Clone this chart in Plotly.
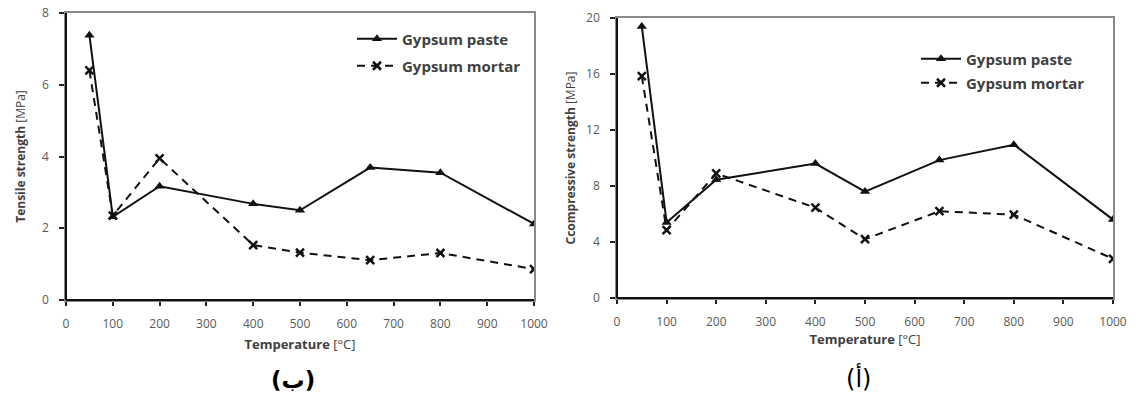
import plotly.graph_objects as go

temperature = [50, 100, 200, 400, 500, 650, 800, 1000]
tensile_paste = [7.38, 2.32, 3.17, 2.68, 2.5, 3.69, 3.55, 2.12]
tensile_mortar = [6.4, 2.35, 3.95, 1.53, 1.32, 1.11, 1.31, 0.86]
comp_paste = [19.4, 5.4, 8.45, 9.6, 7.6, 9.85, 10.95, 5.6]
comp_mortar = [15.85, 4.85, 8.9, 6.45, 4.2, 6.2, 5.95, 2.8]

x_ticks = [0, 100, 200, 300, 400, 500, 600, 700, 800, 900, 1000]
tensile_ticks = [0, 2, 4, 6, 8]
comp_ticks = [0, 4, 8, 12, 16, 20]

W, H = 1136, 396
FONT = "Open Sans"
TXT = "#404040"
TICK = "#595959"

fig = go.Figure()

def add_pair(xa, ya, paste, mortar, leg_a, leg_b):
    fig.add_trace(go.Scatter(
        x=temperature, y=paste, mode="lines+markers", name="<b>Gypsum paste</b>",
        xaxis=xa, yaxis=ya, legend=leg_a,
        line=dict(color="#111111", width=2),
        marker=dict(symbol="triangle-up", size=9, color="#111111")))
    fig.add_trace(go.Scatter(
        x=temperature, y=mortar, mode="lines+markers", name="<b>Gypsum mortar</b>",
        xaxis=xa, yaxis=ya, legend=leg_b,
        line=dict(color="#111111", width=2, dash="8px,6px"),
        marker=dict(symbol="x-thin-open", size=8, line=dict(color="#111111", width=2.5))))

add_pair("x", "y", tensile_paste, tensile_mortar, "legend", "legend2")
add_pair("x2", "y2", comp_paste, comp_mortar, "legend3", "legend4")

def px_x(p):
    return p / W

def px_y(p):
    return 1 - p / H

xaxis_common = dict(
    range=[0, 1000], tickvals=x_ticks, showgrid=False, zeroline=False, automargin=False,
    showline=True, linecolor="#8a8a8a", linewidth=1.5, mirror=True,
    ticks="outside", ticklen=4, tickcolor="#222222", tickwidth=1.5, ticklabelstandoff=8,
    tickfont=dict(family=FONT, size=12, color=TICK),
)
yaxis_common = dict(
    showgrid=False, zeroline=False, automargin=False,
    showline=True, linecolor="#8a8a8a", linewidth=1.5, mirror=True,
    ticks="outside", ticklen=5, tickcolor="#222222", tickwidth=1.5, ticklabelstandoff=8,
    tickfont=dict(family=FONT, size=12, color=TICK),
)

fig.update_layout(
    width=W, height=H, margin=dict(l=0, r=0, t=0, b=0, autoexpand=False),
    paper_bgcolor="white", plot_bgcolor="white",
    xaxis=dict(domain=[px_x(66), px_x(534)], anchor="y",
               title=dict(text="<b>Temperature</b> [°C]", font=dict(family=FONT, size=13, color=TXT), standoff=9),
               **xaxis_common),
    yaxis=dict(domain=[px_y(300), px_y(13)], anchor="x", range=[0, 8], tickvals=tensile_ticks,
               title=dict(text="<b>Tensile strength</b> [MPa]", font=dict(family=FONT, size=12, color=TXT), standoff=14),
               **yaxis_common),
    xaxis2=dict(domain=[px_x(617), px_x(1113)], anchor="y2",
                title=dict(text="<b>Temperature</b> [°C]", font=dict(family=FONT, size=13, color=TXT), standoff=5),
                **xaxis_common),
    yaxis2=dict(domain=[px_y(298), px_y(18)], anchor="x2", range=[0, 20], tickvals=comp_ticks,
                title=dict(text="<b>Ccompressive strength</b> [MPa]", font=dict(family=FONT, size=12, color=TXT), standoff=8),
                **yaxis_common),
    showlegend=True,
)

leg_style = dict(font=dict(family=FONT, size=15, color=TXT), bgcolor="rgba(0,0,0,0)",
                 xanchor="left", yanchor="middle", borderwidth=0, itemwidth=40)
fig.update_layout(
    legend=dict(x=px_x(352), y=px_y(39), **leg_style),
    legend2=dict(x=px_x(352), y=px_y(66), **leg_style),
    legend3=dict(x=px_x(916), y=px_y(59), **leg_style),
    legend4=dict(x=px_x(916), y=px_y(83), **leg_style),
)

# Dark left/bottom axis lines over the grey frame
for xr, yr in [("x domain", "y domain"), ("x2 domain", "y2 domain")]:
    fig.add_shape(type="line", xref=xr, yref=yr, x0=0, x1=0, y0=0, y1=1,
                  line=dict(color="#111111", width=2))
    fig.add_shape(type="line", xref=xr, yref=yr, x0=0, x1=1, y0=0, y1=0,
                  line=dict(color="#111111", width=2))

fig.add_annotation(text="<b>(ب)</b>", x=px_x(269), y=px_y(395), xref="paper", yref="paper",
                   yanchor="bottom", showarrow=False, font=dict(family="DejaVu Sans", size=23, color="#000000"))
fig.add_annotation(text="(أ)", x=px_x(873), y=px_y(395), xref="paper", yref="paper",
                   yanchor="bottom", showarrow=False, font=dict(family="DejaVu Sans", size=24, color="#000000"))

fig.write_html("out.html")
